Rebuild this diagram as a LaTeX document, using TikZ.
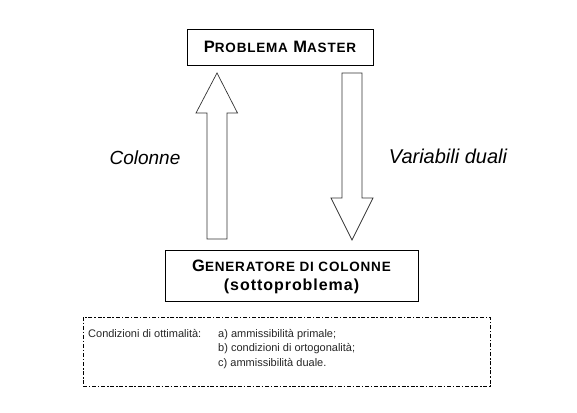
\documentclass[tikz,border=0pt]{standalone}
\usepackage{fontspec}
\setmainfont{Liberation Sans}
\newfontfamily\capsfont[LetterSpace=6]{Liberation Sans}
\usetikzlibrary{calc}
\newcommand{\myscx}[2]{{\fontsize{16.5}{19}\selectfont #1}{\fontsize{13.5}{16}\selectfont #2}}
\tikzset{
  boxnode/.style={draw=black, line width=0.9pt, fill=white, inner sep=0pt, align=center,
    font=\capsfont\bfseries\fontsize{16}{19}\selectfont},
  blockarrow/.style={draw=black!80, line width=0.7pt, fill=white, line join=miter},
  flowlabel/.style={font=\fontsize{19}{22}\selectfont\itshape, inner sep=0pt},
  flowlabelb/.style={font=\fontsize{20}{23}\selectfont\itshape, inner sep=0pt},
  condtext/.style={font=\fontsize{11}{14.5}\selectfont, text=black!85, inner sep=0pt, align=left},
  dashbox/.style={draw=black, line width=0.9pt, dash pattern=on 4pt off 1.8pt on 1.5pt off 1.8pt}
}
\begin{document}
\begin{tikzpicture}[x=1pt, y=-1pt]
\useasboundingbox (0,0) rectangle (577,412);
% boxes
\node[boxnode, minimum width=186pt, minimum height=36pt] (master) at (280,47)
  {\myscx{P}{ROBLEMA} \myscx{M}{ASTER}};
\node[boxnode, minimum width=253pt, minimum height=51pt, text depth=0pt] (gen) at (291.5,275.5)
  {\myscx{G}{ENERATORE DI COLONNE}\\(sottoproblema)};
\node[dashbox, minimum width=407pt, minimum height=69pt] (cond) at (286.5,351.5) {};
% arrow anchors
\coordinate (upbot) at (217,239);
\coordinate (uptip) at (217,73);
\coordinate (dntop) at (352,73);
\coordinate (dntip) at (352,240);
% up arrow (Colonne)
\draw[blockarrow] ($(upbot)+(-10,0)$) -- ($(uptip)+(-10,40)$) -- ($(uptip)+(-21,40)$)
  -- (uptip) -- ($(uptip)+(20.5,40)$) -- ($(uptip)+(10,40)$) -- ($(upbot)+(10,0)$) -- cycle;
% down arrow (Variabili duali)
\draw[blockarrow] ($(dntop)+(-10,0)$) -- ($(dntip)+(-10,-42)$) -- ($(dntip)+(-21,-42)$)
  -- (dntip) -- ($(dntip)+(21,-42)$) -- ($(dntip)+(10,-42)$) -- ($(dntop)+(10,0)$) -- cycle;
% labels
\node[flowlabel] (lcol) at (145,158) {Colonne};
\node[flowlabelb] (lvar) at (448,156) {Variabili duali};
% conditions
\node[condtext, anchor=base west] (c0) at (88,337) {Condizioni di ottimalità:};
\node[condtext, anchor=base west] (c1) at (218,337) {a) ammissibilità primale;};
\node[condtext, anchor=base west] (c2) at (218,351.5) {b) condizioni di ortogonalità;};
\node[condtext, anchor=base west] (c3) at (218,366) {c) ammissibilità duale.};
\end{tikzpicture}
\end{document}
